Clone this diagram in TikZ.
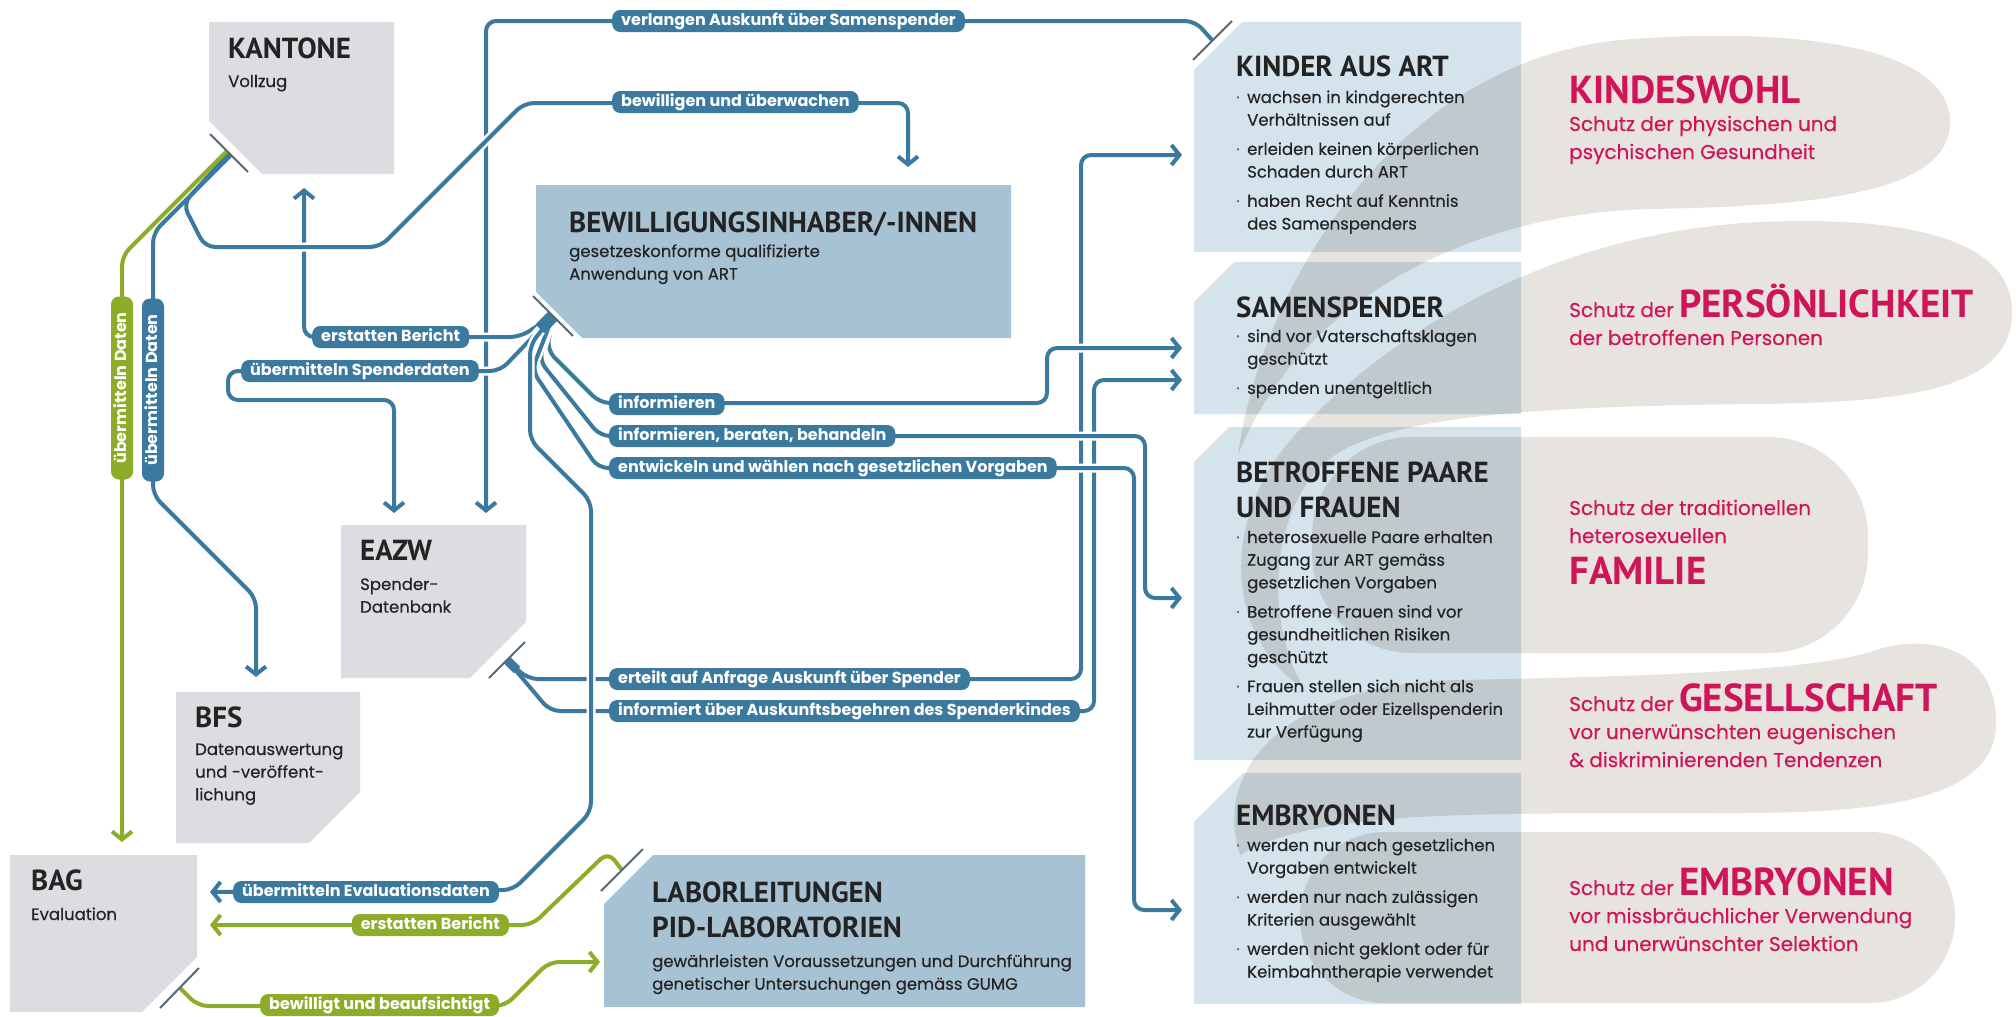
\documentclass[tikz,border=0pt]{standalone}
\usepackage{fontspec}
\setmainfont{Poppins}
\newfontfamily\bodyfont{Poppins}[FakeBold=0.35]
\newfontfamily\headfont{PT Sans}
\usetikzlibrary{arrows.meta,positioning}

\definecolor{linkblue}{RGB}{59,122,158}
\definecolor{linkgreen}{RGB}{141,173,42}
\definecolor{boxgray}{RGB}{219,221,224}
\definecolor{boxblue}{RGB}{167,194,210}
\definecolor{boxlight}{RGB}{212,227,236}
\definecolor{blob}{RGB}{231,228,223}
\definecolor{rose}{RGB}{208,20,90}
\definecolor{ink}{RGB}{35,35,35}
\definecolor{dot}{RGB}{110,110,110}
\definecolor{barline}{RGB}{85,105,120}

\newcommand{\textlines}[1]{\begin{tabular}[t]{@{}l@{}}#1\end{tabular}}
\newcommand{\bul}{\par\hangindent=11pt\hangafter=1\noindent\makebox[11pt][l]{\textcolor{dot}{·}}}
\newcommand{\bullist}[1]{\begin{minipage}[t]{300pt}\setlength{\parskip}{6.5pt}#1\end{minipage}}
\newcommand{\bigword}[1]{{\headfont\bfseries\fontsize{39}{40}\selectfont #1}}

\begin{document}
\begin{tikzpicture}[x=1pt, y=-1pt,
	link/.style={draw=linkblue, line width=4pt, rounded corners=10pt, -{Straight Barb[length=8pt,width=20pt]}},
	glink/.style={link, draw=linkgreen},
	halo/.style={preaction={draw=white, line width=9pt, -}},
	pill/.style={fill=linkblue, text=white, font=\bfseries\fontsize{16}{18}\selectfont,
		rounded corners=8pt, inner xsep=9pt, inner ysep=0pt, text height=11.5pt, text depth=3.5pt, minimum height=22pt},
	gpill/.style={pill, fill=linkgreen},
	vpill/.style={pill, rotate=90, minimum width=183pt},
	bar/.style={draw=barline, line width=2pt},
	title/.style={font=\headfont\bfseries\fontsize{29}{35}\selectfont, text=ink, inner sep=0pt, anchor=base west},
	sub/.style={font=\bodyfont\fontsize{16.5}{22.7}\selectfont, text=ink, inner sep=0pt, anchor=base west},
	rosetext/.style={font=\bodyfont\fontsize{20}{28}\selectfont, text=rose, inner sep=0pt, anchor=base west},
	]
	\useasboundingbox (0,0) rectangle (2016,1017);
	\fill[white] (0,0) rectangle (2016,1017);

	% Zielgruppen rechts
	\fill[boxlight] (1194,70) -- (1242,22) -- (1521,22) -- (1521,252) -- (1194,252) -- cycle;
	\fill[boxlight] (1194,302) -- (1234,262) -- (1521,262) -- (1521,414) -- (1194,414) -- cycle;
	\fill[boxlight] (1194,462) -- (1229,427) -- (1521,427) -- (1521,760) -- (1194,760) -- cycle;
	\fill[boxlight] (1194,822) -- (1243,773) -- (1521,773) -- (1521,1004) -- (1194,1004) -- cycle;

	% Schutzgueter
	\begin{scope}[blend mode=multiply]
		\fill[blob] (1238,455) .. controls (1262,280) and (1400,62) .. (1620,40)
			.. controls (1790,26) and (1950,45) .. (1950,122)
			.. controls (1950,195) and (1810,206) .. (1650,209)
			.. controls (1470,213) and (1300,300) .. (1238,455) -- cycle;
		\fill[blob] (1305,690) .. controls (1215,630) and (1225,500) .. (1305,425)
			.. controls (1400,325) and (1560,232) .. (1760,222)
			.. controls (1905,216) and (2012,238) .. (2012,312)
			.. controls (2012,392) and (1900,402) .. (1760,404)
			.. controls (1570,406) and (1400,412) .. (1335,455)
			.. controls (1270,500) and (1262,620) .. (1305,690) -- cycle;
		\fill[blob, rounded corners=100pt] (1312,437) rectangle (1868,653);
		\fill[blob] (1240,855) .. controls (1210,760) and (1300,682) .. (1460,680)
			.. controls (1650,676) and (1800,672) .. (1870,652)
			.. controls (1930,630) and (1998,650) .. (1996,725)
			.. controls (1994,800) and (1880,812) .. (1750,813)
			.. controls (1520,815) and (1320,805) .. (1240,855) -- cycle;
		\fill[blob, rounded corners=85pt] (1300,832) rectangle (1955,1003);
	\end{scope}

	% Akteure links
	\fill[boxgray] (209,22) -- (394,22) -- (394,174) -- (262,174) -- (209,121) -- cycle;
	\fill[boxblue] (536,185) -- (1011,185) -- (1011,338) -- (582,338) -- (536,292) -- cycle;
	\fill[boxgray] (341,525) -- (526,525) -- (526,622) -- (470,678) -- (341,678) -- cycle;
	\fill[boxgray] (176,692) -- (360,692) -- (360,792) -- (309,843) -- (176,843) -- cycle;
	\fill[boxgray] (10,855) -- (197,855) -- (197,957) -- (142,1012) -- (10,1012) -- cycle;
	\fill[boxblue] (604,904) -- (653,855) -- (1085,855) -- (1085,1007) -- (604,1007) -- cycle;

	% Anschluesse
	\coordinate (kbar) at (229,153);
	\coordinate (bbar) at (553,316);
	\coordinate (ebar) at (507,660);
	\coordinate (kibar) at (1212,40);
	\coordinate (bagbar) at (180,988);
	\coordinate (labbar) at (622,870);
	\coordinate (kant-in) at (304,188);
	\coordinate (bew-in) at (908,167);
	\coordinate (eazw-in1) at (394,513);
	\coordinate (eazw-in2) at (486,513);
	\coordinate (bfs-in) at (256,677);
	\coordinate (bag-in1) at (122,842);
	\coordinate (bag-in2) at (210,892);
	\coordinate (bag-in3) at (210,925);
	\coordinate (lab-in) at (600,962);
	\coordinate (kind-in) at (1182,155);
	\coordinate (sam-in1) at (1182,348);
	\coordinate (sam-in2) at (1182,380);
	\coordinate (paar-in) at (1182,598);
	\coordinate (emb-in) at (1182,910);

	% Verbindungspfeile
	\draw[link] (kibar) -- (1195,21) -- (486,21) -- (eazw-in2);
	\draw[link] (ebar) -- (528,679) -- (1081,679) -- (1081,155) -- (kind-in);
	\draw[link] (ebar) -- (550,711) -- (1094,711) -- (1094,380) -- (sam-in2);
	\draw[link, halo] (bbar) -- (520,337) -- (304,337) -- (kant-in);
	\draw[link, halo] (bbar) -- (500,371) -- (228,371) -- (228,400) -- (394,400) -- (eazw-in1);
	\draw[link, halo] (bbar) -- (547,350) -- (600,403) -- (1047,403) -- (1047,348) -- (sam-in1);
	\draw[link, halo] (bbar) -- (539,360) -- (600,436) -- (1145,436) -- (1145,598) -- (paar-in);
	\draw[link, halo] (bbar) -- (532,370) -- (598,468) -- (1134,468) -- (1134,910) -- (emb-in);
	\draw[link, halo] (bbar) -- (530,345) -- (530,440) -- (591,501) -- (591,812) -- (513,890) -- (bag-in2);
	\draw[link, halo] (kbar) -- (183,204) -- (205,247) -- (380,247) -- (524,103) -- (908,103) -- (bew-in);
	\draw[link] ([shift={(2,2)}]kbar) -- (153,233) -- (153,495) -- (256,598) -- (bfs-in);
	\draw[glink] ([shift={(-2,-2)}]kbar) -- (122,256) -- (bag-in1);
	\draw[glink] (labbar) -- (608,852) -- (532,925) -- (bag-in3);
	\draw[glink] (bagbar) -- (198,1006) -- (505,1006) -- (549,962) -- (lab-in);

	\draw[linkblue, line width=13pt] (bbar) -- ++(-13,13);
	\draw[linkblue, line width=9pt] (ebar) -- ++(10,10);

	\draw[bar] (210,134) -- (248,172);
	\draw[bar] (533,296) -- (573,336);
	\draw[bar] (489,678) -- (525,642);
	\draw[bar] (1193,60) -- (1232,21);
	\draw[bar] (199,968) -- (160,1008);
	\draw[bar] (601,891) -- (643,849);

	% Beschriftungen der Pfeile
	\node[pill, anchor=west] (p-verlangen) at (612,21) {verlangen Auskunft über Samenspender};
	\node[pill, anchor=west] (p-bewilligen) at (612,102) {bewilligen und überwachen};
	\node[pill, anchor=west] (p-bericht) at (312,337) {erstatten Bericht};
	\node[pill, anchor=west] (p-spenderdaten) at (241,371) {übermitteln Spenderdaten};
	\node[pill, anchor=west] (p-info) at (609,404) {informieren};
	\node[pill, anchor=west] (p-beraten) at (609,436) {informieren, beraten, behandeln};
	\node[pill, anchor=west] (p-entwickeln) at (609,468) {entwickeln und wählen nach gesetzlichen Vorgaben};
	\node[pill, anchor=west] (p-erteilt) at (609,679) {erteilt auf Anfrage Auskunft über Spender};
	\node[pill, anchor=west] (p-informiert) at (609,711) {informiert über Auskunftsbegehren des Spenderkindes};
	\node[pill, anchor=west] (p-evaluation) at (233,892) {übermitteln Evaluationsdaten};
	\node[gpill, anchor=east] (p-gbericht) at (509,925) {erstatten Bericht};
	\node[gpill, anchor=west] (p-bewilligt) at (260,1005) {bewilligt und beaufsichtigt};
	\node[vpill, fill=linkgreen] (p-gdaten) at (122,388) {übermitteln Daten};
	\node[vpill] (p-bdaten) at (153,390) {übermitteln Daten};

	% Akteure
	\node[title] (kantone) at (228,58) {KANTONE};
	\node[sub] (kantone-sub) at (228,87) {Vollzug};
	\node[title] (bewilligung) at (569,232) {BEWILLIGUNGSINHABER/-INNEN};
	\node[sub] (bewilligung-sub) at (569,257) {\textlines{gesetzeskonforme qualifizierte\\Anwendung von ART}};
	\node[title] (eazw) at (360,560) {EAZW};
	\node[sub] (eazw-sub) at (360,590) {\textlines{Spender-\\Datenbank}};
	\node[title] (bfs) at (195,727) {BFS};
	\node[sub] (bfs-sub) at (195,755) {\textlines{Datenauswertung\\und -veröffent-\\lichung}};
	\node[title] (bag) at (31,890) {BAG};
	\node[sub] (bag-sub) at (31,920) {Evaluation};
	\node[title] (labor) at (652,902) {\textlines{LABORLEITUNGEN\\PID-LABORATORIEN}};
	\node[sub] (labor-sub) at (652,967) {\textlines{gewährleisten Voraussetzungen und Durchführung\\genetischer Untersuchungen gemäss GUMG}};

	% Betroffene
	\node[title] (kinder) at (1236,76) {KINDER AUS ART};
	\node[sub] (kinder-list) at (1236,103) {\bullist{%
		\bul wachsen in kindgerechten\\Verhältnissen auf
		\bul erleiden keinen körperlichen\\Schaden durch ART
		\bul haben Recht auf Kenntnis\\des Samenspenders}};
	\node[title] (spender) at (1236,317) {SAMENSPENDER};
	\node[sub] (spender-list) at (1236,342) {\bullist{%
		\bul sind vor Vaterschaftsklagen\\geschützt
		\bul spenden unentgeltlich}};
	\node[title] (paare) at (1236,482) {\textlines{BETROFFENE PAARE\\UND FRAUEN}};
	\node[sub] (paare-list) at (1236,543) {\bullist{%
		\bul heterosexuelle Paare erhalten\\Zugang zur ART gemäss\\gesetzlichen Vorgaben
		\bul Betroffene Frauen sind vor\\gesundheitlichen Risiken\\geschützt
		\bul Frauen stellen sich nicht als\\Leihmutter oder Eizellspenderin\\zur Verfügung}};
	\node[title] (embryonen) at (1236,825) {EMBRYONEN};
	\node[sub] (embryonen-list) at (1236,851) {\bullist{%
		\bul werden nur nach gesetzlichen\\Vorgaben entwickelt
		\bul werden nur nach zulässigen\\Kriterien ausgewählt
		\bul werden nicht geklont oder für\\Keimbahntherapie verwendet}};

	% Schutzgueter
	\node[rosetext] (wohl) at (1569,103) {\textlines{\bigword{KINDESWOHL}\\Schutz der physischen und\\psychischen Gesundheit}};
	\node[rosetext] (persoenlichkeit) at (1569,317) {\textlines{Schutz der \bigword{PERSÖNLICHKEIT}\\der betroffenen Personen}};
	\node[rosetext] (familie) at (1569,515) {\textlines{Schutz der traditionellen\\heterosexuellen\\[6pt]\bigword{FAMILIE}}};
	\node[rosetext] (gesellschaft) at (1569,711) {\textlines{Schutz der \bigword{GESELLSCHAFT}\\vor unerwünschten eugenischen\\\& diskriminierenden Tendenzen}};
	\node[rosetext] (schutz-embryonen) at (1569,895) {\textlines{Schutz der \bigword{EMBRYONEN}\\vor missbräuchlicher Verwendung\\und unerwünschter Selektion}};
\end{tikzpicture}
\end{document}
